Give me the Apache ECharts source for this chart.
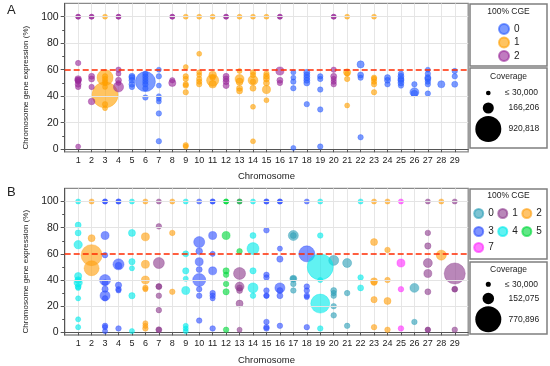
<!DOCTYPE html>
<html><head><meta charset="utf-8">
<script src="https://cdn.jsdelivr.net/npm/echarts@6/dist/echarts.min.js"></script>
<style>html,body{margin:0;padding:0;background:#fff}#c{width:550px;height:366px}</style>
</head><body><div id="c"></div>
<script>
// ---------- tick labels ----------
const chromosomes = [1,2,3,4,5,6,7,8,9,10,11,12,13,14,15,16,17,18,19,20,21,22,23,24,25,26,27,28,29];
const yTicks = [0,20,40,60,80,100];
const yMinorTicks = [10,30,50,70,90];
const threshold = 60;

// ---------- Panel A : [chromosome, expression %, coverage] by 100% CGE ----------
const A_cge0 = [
 [5,55,50000],[5,54,50000],[5,52,50000],[5,49,50000],[5,47,40000],
 [6,51,545000],[6,57,40000],[6,55,40000],[6,53,40000],[6,51,40000],[6,49,40000],[6,46,40000],[6,39,40000],
 [7,60,30000],[7,55,40000],[7,48,30000],[7,40,30000],[7,38,30000],[7,36,30000],[7,27,40000],[7,6,40000],
 [17,58,30000],[17,54,30000],[17,51,40000],[17,46,40000],[17,1,30000],
 [18,58,50000],[18,56,50000],[18,54,50000],[18,52,50000],[18,50,50000],[18,34,40000],
 [19,55,40000],[19,53,40000],[19,45,40000],[19,30,40000],[19,2,40000],
 [22,64,70000],[22,56,50000],[22,54,40000],[22,9,40000],
 [24,54,50000],[24,52,50000],[24,49,40000],
 [25,57,40000],[25,55,50000],[25,53,50000],[25,52,50000],[25,50,50000],[25,48,40000],
 [26,49,40000],[26,43,110000],[26,42,60000],
 [27,60,30000],[27,57,40000],[27,54,50000],[27,53,50000],[27,51,40000],[27,49,40000],[27,42,40000],
 [28,49,70000],
 [29,59,40000],[29,55,40000],[29,49,50000]
];
const A_cge1 = [
 [3,100,30000],[3,54,350000],[3,41,920818],[3,55,40000],[3,53,40000],[3,51,40000],[3,50,30000],[3,47,30000],[3,34,40000],[3,31,30000],
 [9,100,30000],[9,62,30000],[9,55,40000],[9,53,40000],[9,49,40000],[9,48,40000],[9,43,40000],[9,3,40000],[9,2,30000],
 [10,100,30000],[10,72,30000],[10,58,30000],[10,56,30000],[10,53,40000],[10,51,40000],[10,49,40000],
 [11,100,30000],[11,52,200000],[11,56,80000],[11,49,80000],[11,54,40000],
 [13,100,30000],[13,59,30000],[13,53,110000],[13,51,70000],[13,46,50000],[13,44,50000],
 [14,100,30000],[14,58,40000],[14,56,40000],[14,52,130000],[14,51,40000],[14,46,50000],[14,32,30000],[14,6,30000],
 [15,100,30000],[15,57,40000],[15,55,50000],[15,53,50000],[15,50,50000],[15,45,90000],[15,37,30000],
 [21,100,30000],[21,58,70000],[21,57,30000],[21,53,40000],[21,33,30000],
 [23,100,30000],[23,54,40000],[23,53,40000],[23,51,40000],[23,49,40000],[23,43,40000]
];
const A_cge2 = [
 [1,100,30000],[1,100,30000],[1,65,40000],[1,53,60000],[1,52,60000],[1,52,40000],[1,51,30000],[1,49,50000],[1,47,40000],[1,2,30000],
 [2,100,30000],[2,100,30000],[2,55,50000],[2,53,50000],[2,47,40000],[2,36,60000],
 [4,100,30000],[4,100,30000],[4,60,40000],[4,57,30000],[4,52,50000],[4,50,30000],[4,47,140000],
 [8,100,30000],[8,100,30000],[8,52,40000],[8,50,70000],
 [12,100,30000],[12,100,30000],[12,55,50000],[12,53,50000],[12,51,50000],[12,48,50000],
 [16,100,30000],[16,100,30000],[16,59,90000],[16,52,50000],[16,50,40000],
 [20,100,30000],[20,100,30000],[20,60,40000],[20,55,50000],[20,53,40000],[20,51,40000],[20,49,40000]
];
const A_coverageLegend = [30000,166206,920818];
const A_coverageLabels = ['\u2264 30,000','166,206','920,818'];

// ---------- Panel B ----------
const B_cge0 = [
 [17,74,114000],[17,74,41000],[17,41,56000],[17,41,35000],[17,37,35000],[17,32,35000],
 [20,55,114000],[20,32,41000],[20,30,35000],[20,28,35000],[20,20,35000],[20,13,35000],
 [21,53,92000],[21,30,35000],[21,5,35000],
 [26,34,92000],[26,8,35000]
];
const B_cge1 = [
 [7,100,30000],[7,81,35000],[7,53,138000],[7,35,41000],[7,35,35000],[7,28,35000],[7,17,35000],[7,2,41000],[7,2,30000],
 [13,100,30000],[13,45,164000],[13,35,92000],[13,34,41000],[13,32,41000],[13,22,56000],[13,2,30000],
 [27,100,30000],[27,76,35000],[27,66,45000],[27,53,92000],[27,45,73000],[27,31,41000],[27,2,35000],[27,2,30000],
 [29,100,30000],[29,45,505000],[29,33,41000],[29,33,30000],[29,2,35000]
];
const B_cge2 = [
 [2,100,30000],[2,72,56000],[2,59,505000],[2,49,257000],
 [6,100,30000],[6,73,73000],[6,52,73000],[6,40,73000],[6,34,35000],[6,33,30000],[6,7,30000],[6,5,30000],[6,3,35000],
 [8,100,30000],[8,76,35000],[8,31,35000],
 [23,100,30000],[23,69,56000],[23,39,56000],[23,38,35000],[23,25,45000],[23,4,35000],
 [24,100,30000],[24,63,35000],[24,40,35000],[24,24,56000],[24,2,35000],
 [28,100,30000],[28,59,114000]
];
const B_cge3 = [
 [3,100,30000],[3,100,30000],[3,74,73000],[3,59,35000],[3,40,138000],[3,38,40000],[3,33,45000],[3,28,114000],[3,26,35000],[3,5,35000],[3,4,30000],[3,1,30000],
 [4,100,30000],[4,100,30000],[4,52,138000],[4,51,50000],[4,36,45000],[4,33,35000],[4,32,30000],[4,3,35000],
 [10,100,30000],[10,69,138000],[10,62,50000],[10,54,73000],[10,48,41000],[10,40,193000],[10,33,35000],[10,28,35000],[10,9,35000],
 [11,100,30000],[11,100,30000],[11,74,73000],[11,60,30000],[11,47,73000],[11,30,35000],[11,28,35000],[11,26,30000],[11,3,35000],
 [15,100,30000],[15,100,30000],[15,78,35000],[15,44,35000],[15,42,35000],[15,32,35000],[15,28,35000],[15,28,30000],[15,8,35000],[15,4,35000],[15,3,35000],
 [16,100,30000],[16,100,30000],[16,64,30000],[16,56,45000],[16,34,114000],[16,32,41000],[16,28,41000],[16,5,35000],
 [18,100,30000],[18,60,292000],[18,35,35000],[18,32,35000],[18,28,35000],[18,27,30000],[18,4,35000]
];
const B_cge4 = [
 [1,100,30000],[1,82,41000],[1,76,41000],[1,67,80000],[1,43,60000],[1,40,50000],[1,38,80000],[1,35,41000],[1,34,30000],[1,26,30000],[1,10,30000],[1,4,30000],
 [5,100,30000],[5,76,56000],[5,54,45000],[5,49,30000],[5,28,45000],[5,1,30000],
 [9,100,30000],[9,60,41000],[9,47,45000],[9,41,30000],[9,32,73000],[9,5,30000],[9,3,30000],[9,1,30000],
 [14,100,30000],[14,74,41000],[14,64,164000],[14,47,45000],[14,34,114000],[14,28,35000],
 [19,100,30000],[19,74,35000],[19,50,770896],[19,40,30000],[19,22,412000],[19,3,35000],
 [22,100,30000],[22,42,35000],[22,34,41000]
];
const B_cge5 = [
 [12,100,30000],[12,100,30000],[12,74,73000],[12,47,45000],[12,44,35000],[12,37,35000],[12,31,45000],[12,2,35000],
 [13,100,30000],[13,62,35000]
];
const B_cge7 = [
 [25,100,30000],[25,53,73000],[25,33,35000],[25,3,35000]
];
const B_coverageLegend = [30000,152075,770896];
const B_coverageLabels = ['\u2264 30,000','152,075','770,896'];

// ---------- styling ----------
const FONT = "'Liberation Sans', Arial, Helvetica, sans-serif";
const A_colors = {A0:'#2a5cff', A1:'#ffa000', A2:'#9a2a9a'};
const B_colors = {B0:'#2f9fb8', B1:'#8e3d8e', B2:'#ff9f10', B3:'#3050ff', B4:'#00eaea', B5:'#00d83c', B7:'#ff2cff'};
const A_max = A_coverageLegend[2], B_max = B_coverageLegend[2];
const MAXD = 26;
function diam(cov, max){ return MAXD*Math.sqrt(cov/max); }

function scatter(name, data, color, idx, max){
  const sorted = data.slice().sort((a,b)=>b[2]-a[2]);
  return {
    name, type:'scatter', xAxisIndex: idx, yAxisIndex: idx*2, data: sorted, z: 3,
    symbolSize: v => Math.max(5, diam(v[2], max)),
    itemStyle: {color, opacity: 0.62, borderColor: color, borderWidth: 0.6},
    emphasis: {disabled: true}, animation: false
  };
}
function refLines(idx){
  return {
    type:'scatter', xAxisIndex: idx, yAxisIndex: idx*2, data: [], z: 1, silent: true,
    markLine: {
      silent: true, symbol: 'none', animation: false, label: {show:false},
      data: [20,40,80,100].map(v=>({yAxis:v, lineStyle:{color:'#e4e4e4', width:1, type:'solid'}}))
        .concat([{yAxis: threshold, lineStyle:{color:'#ff2a00', width:1.6, type:[6,3]}}])
    }
  };
}

const grids = [
  {left: 64.7, right: 81.8, top: 3.45, height: 148.4},
  {left: 64.7, right: 81.8, top: 188.4, height: 148.4}
];
function xAxis(idx){
  return {
    gridIndex: idx, type:'value', min:0, max:30, interval:1,
    name:'Chromosome', nameLocation:'middle', nameGap: 20,
    nameTextStyle:{fontSize: 9.5, color:'#222', fontFamily: FONT},
    axisLine:{lineStyle:{color:'#555', width:1}},
    axisTick:{customValues: chromosomes, length:3, lineStyle:{color:'#555'}},
    axisLabel:{customValues: chromosomes, fontSize: 9, color:'#222', margin: 4, fontFamily: FONT},
    splitLine:{show:true, lineStyle:{color:'#e6e6e6', width:1}}
  };
}
function yAxes(idx){
  return [{
    gridIndex: idx, type:'value', min:-2, max:110,
    name:'Chromosome gene expression (%)', nameLocation:'middle', nameGap: 20, nameRotate: 90,
    nameTextStyle:{fontSize: 8, color:'#222', fontFamily: FONT, padding:[0,20,0,0]},
    axisLine:{show:true, lineStyle:{color:'#555', width:1}},
    axisTick:{show:true, customValues: yTicks, length:4, lineStyle:{color:'#555'}},
    axisLabel:{customValues: yTicks, fontSize: 10.5, color:'#222', margin: 6, fontFamily: FONT},
    splitLine:{show:false}
  },{
    gridIndex: idx, type:'value', min:-2, max:110, position:'left',
    axisLine:{show:false}, axisLabel:{show:false}, splitLine:{show:false},
    axisTick:{show:true, customValues: yMinorTicks, length:2.5, lineStyle:{color:'#555'}}
  }];
}

function coverageLegend(y0, values, labels, max, ys){
  const els = [{type:'text', x: 508.5, y: y0, style:{text:'Coverage', fontSize: 8.5, fontFamily: FONT, fill:'#222', textAlign:'center', textVerticalAlign:'middle'}}];
  values.forEach((v,i)=>{
    els.push({type:'circle', shape:{cx: 488.3, cy: ys[i], r: diam(v,max)/2}, style:{fill:'#000'}});
    els.push({type:'text', x: i===0 ? 505 : 508.5, y: ys[i], style:{text: labels[i], fontSize: 8.5, fontFamily: FONT, fill:'#222', textAlign:'left', textVerticalAlign:'middle'}});
  });
  return els;
}

const legendCommon = {icon:'circle', itemWidth: 10, itemHeight: 10, selectedMode:false, padding: 0,
  textStyle:{fontSize: 10, color:'#222', fontFamily: FONT}, formatter: n => n.slice(1)};

const option = {
  animation: false,
  grid: grids.map(g => Object.assign({show:true, borderColor:'#8a8a8a', borderWidth:1.3, backgroundColor:'#fff'}, g)),
  xAxis: [xAxis(0), xAxis(1)],
  yAxis: yAxes(0).concat(yAxes(1)),
  legend: [
    Object.assign({}, legendCommon, {orient:'vertical', left: 498, top: 23, itemGap: 1.5, data:['A0','A1','A2']}),
    Object.assign({}, legendCommon, {orient:'horizontal', left: 473.2, top: 208, width: 76, itemGap: 3.5, itemWidth: 9, itemHeight: 9, data:['B0','B1','B2']}),
    Object.assign({}, legendCommon, {orient:'horizontal', left: 473.2, top: 226, width: 76, itemGap: 3.5, itemWidth: 9, itemHeight: 9, data:['B3','B4','B5']}),
    Object.assign({}, legendCommon, {orient:'horizontal', left: 473.2, top: 242, width: 76, itemGap: 3.5, itemWidth: 9, itemHeight: 9, data:['B7']})
  ],
  graphic: [
    {type:'text', x: 7, y: 10, style:{text:'A', fontSize: 13, fontFamily: FONT, fill:'#222', textVerticalAlign:'middle'}},
    {type:'text', x: 7, y: 192, style:{text:'B', fontSize: 13, fontFamily: FONT, fill:'#222', textVerticalAlign:'middle'}},
    {type:'rect', shape:{x:470, y:4, width:77, height:62}, style:{fill:'none', stroke:'#7f7f7f', lineWidth:1.5}},
    {type:'rect', shape:{x:470, y:68, width:77, height:80}, style:{fill:'none', stroke:'#7f7f7f', lineWidth:1.5}},
    {type:'rect', shape:{x:470, y:189, width:77, height:70}, style:{fill:'none', stroke:'#7f7f7f', lineWidth:1.5}},
    {type:'rect', shape:{x:470, y:262, width:77, height:72}, style:{fill:'none', stroke:'#7f7f7f', lineWidth:1.5}},
    {type:'text', x: 508.5, y: 12, style:{text:'100% CGE', fontSize: 8.5, fontFamily: FONT, fill:'#222', textAlign:'center', textVerticalAlign:'middle'}},
    {type:'text', x: 508.5, y: 196, style:{text:'100% CGE', fontSize: 8.5, fontFamily: FONT, fill:'#222', textAlign:'center', textVerticalAlign:'middle'}}
  ].concat(coverageLegend(76.5, A_coverageLegend, A_coverageLabels, A_max, [93, 108, 129]))
   .concat(coverageLegend(269.5, B_coverageLegend, B_coverageLabels, B_max, [284.3, 298.5, 319.3])),
  series: [
    refLines(0), refLines(1),
    scatter('A0', A_cge0, A_colors.A0, 0, A_max),
    scatter('A1', A_cge1, A_colors.A1, 0, A_max),
    scatter('A2', A_cge2, A_colors.A2, 0, A_max),
    scatter('B0', B_cge0, B_colors.B0, 1, B_max),
    scatter('B1', B_cge1, B_colors.B1, 1, B_max),
    scatter('B2', B_cge2, B_colors.B2, 1, B_max),
    scatter('B3', B_cge3, B_colors.B3, 1, B_max),
    scatter('B4', B_cge4, B_colors.B4, 1, B_max),
    scatter('B5', B_cge5, B_colors.B5, 1, B_max),
    scatter('B7', B_cge7, B_colors.B7, 1, B_max)
  ]
};
const chart = echarts.init(document.getElementById('c'), null, {renderer:'canvas'});
chart.setOption(option);
</script></body></html>
